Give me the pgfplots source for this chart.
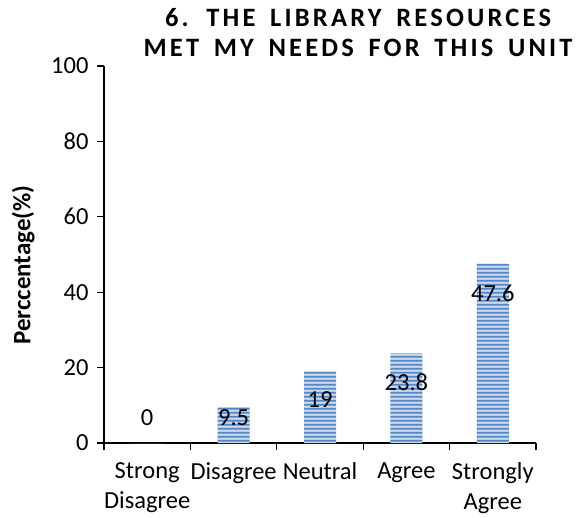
\documentclass[border=0pt]{standalone}
\usepackage{pgfplots}
\pgfplotsset{compat=1.18}
\usepackage{fontspec}
\usetikzlibrary{patterns}
\setmainfont{Carlito}
\newfontfamily\titlefont[LetterSpace=12,WordSpace=1.6]{Carlito}
\definecolor{barblue}{RGB}{84,134,196}
\definecolor{barlight}{RGB}{200,216,238}
\pgfdeclarepatternformonly{hstripes}{\pgfpoint{0pt}{0pt}}{\pgfpoint{800pt}{4pt}}{\pgfpoint{800pt}{4pt}}{%
  \pgfpathrectangle{\pgfpoint{0pt}{0.5pt}}{\pgfpoint{800pt}{2.2pt}}\pgfusepath{fill}}
\begin{document}
\begin{tikzpicture}
\path[use as bounding box] (-104pt,-74pt) rectangle (481pt,443pt);
\begin{axis}[
  at={(0pt,0pt)}, anchor=south west,
  scale only axis, width=432pt, height=377pt,
  xmin=-0.5, xmax=4.5, ymin=0, ymax=100,
  axis lines*=left,
  axis line style={line width=1.2pt, -},
  ytick={0,20,...,100},
  xtick={0,...,4},
  xticklabels={{Strong\\Disagree},Disagree,Neutral,Agree,{Strongly\\Agree}},
  minor xtick={-0.5,0.5,...,4.5},
  tick align=outside,
  major tick length=7pt, minor tick length=7pt,
  major x tick style={draw=none},
  tick style={line width=1.2pt, black},
  ticklabel style={font=\fontsize{24.5}{30}\selectfont},
  xticklabel style={align=center, yshift=-9pt},
  yticklabel style={xshift=-5pt},
  /pgf/number format/assume math mode=true,
  ylabel={Perccentage(\%)},
  ylabel style={at={(axis description cs:-0.187,0.472)}, anchor=center, font=\bfseries\fontsize{25}{30}\selectfont},
  title={6. THE LIBRARY RESOURCES\\MET MY NEEDS FOR THIS UNIT},
  title style={at={(axis description cs:0.588,1)}, anchor=north, yshift=52pt, inner sep=0pt, align=center, font=\titlefont\bfseries\fontsize{26.5}{30}\selectfont},
  clip=false,
]
\addplot[ybar, bar width=32pt, draw=none, fill=barlight, postaction={pattern=hstripes, pattern color=barblue}] coordinates {(0,0) (1,9.5) (2,19) (3,23.8) (4,47.6)};
\addplot[draw=none, mark=none, nodes near coords, point meta=explicit symbolic, nodes near coords style={anchor=center, font=\fontsize{24.5}{30}\selectfont, text=black}] coordinates {(0,6.8)[0] (1,6.6)[9.5] (2,11.4)[19] (3,16.2)[23.8] (4,39.8)[47.6]};
\end{axis}
\end{tikzpicture}
\end{document}
